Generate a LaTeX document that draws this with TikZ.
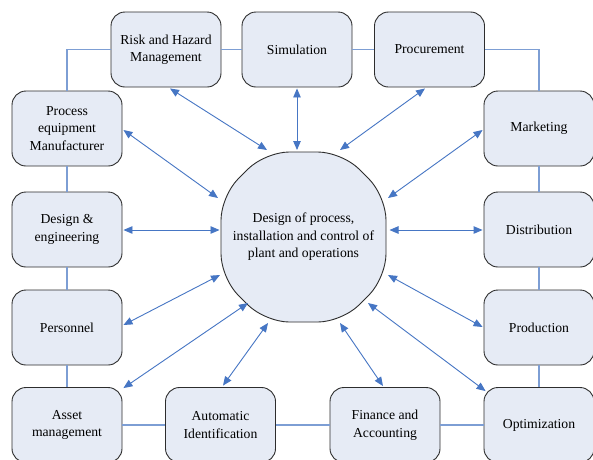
\documentclass[tikz,border=0pt]{standalone}
\usepackage{fontspec}
\setmainfont{Liberation Serif}
\usetikzlibrary{arrows.meta,calc}

\definecolor{boxfill}{RGB}{230,235,245}
\definecolor{boxline}{RGB}{45,45,45}
\definecolor{ringblue}{RGB}{125,158,212}
\definecolor{arrowblue}{RGB}{70,118,196}

\tikzset{
  unitbox/.style={draw=boxline, line width=0.9pt, fill=boxfill,
    rounded corners=14pt, minimum width=110pt, minimum height=75pt,
    inner sep=2pt, align=center,
    font=\fontsize{13.7}{17.5}\selectfont},
  coretext/.style={align=center, inner sep=0pt,
    font=\fontsize{13.7}{17.5}\selectfont},
  coreshape/.style={draw=boxline, line width=0.9pt, fill=boxfill,
    rounded corners=24pt},
  ring/.style={draw=ringblue, line width=1.1pt},
  link/.style={draw=arrowblue, line width=0.9pt,
    {Triangle[length=9pt,width=7.5pt]}-{Triangle[length=9pt,width=7.5pt]}}
}

\begin{document}
\begin{tikzpicture}[x=1pt,y=-1pt]
  \useasboundingbox (0,0) rectangle (593,459);
  \clip (0,0) rectangle (593,459);
  \fill[white] (0,0) rectangle (593,459);

  % surrounding units
  \node[unitbox] (risk)  at (166,49.5)   {Risk and Hazard\\Management};
  \node[unitbox] (sim)   at (297,49.5)   {Simulation};
  \node[unitbox] (proc)  at (429.5,49.5) {Procurement};
  \node[unitbox] (pe)    at (67,128.5)   {Process\\equipment\\Manufacturer};
  \node[unitbox] (mkt)   at (539,128.5)  {Marketing};
  \node[unitbox] (de)    at (67,229.5)   {Design \&\\engineering};
  \node[unitbox] (dist)  at (539,229.5)  {Distribution};
  \node[unitbox] (pers)  at (67,327.5)   {Personnel};
  \node[unitbox] (prod)  at (539,327.5)  {Production};
  \node[unitbox] (asset) at (67,425)     {Asset\\management};
  \node[unitbox] (auto)  at (220.5,425)  {Automatic\\Identification};
  \node[unitbox] (fin)   at (385,425)    {Finance and\\Accounting};
  \node[unitbox] (opt)   at (539,425)    {Optimization};

  % ring of lines joining neighbouring units
  \path[ring] (risk.west) -| (pe.north);
  \path[ring] (risk.east) -- (sim.west);
  \path[ring] (sim.east) -- (proc.west);
  \path[ring] (proc.east) -| (mkt.north);
  \path[ring] (pe.south) -- (de.north);
  \path[ring] (de.south) -- (pers.north);
  \path[ring] (pers.south) -- (asset.north);
  \path[ring] (mkt.south) -- (dist.north);
  \path[ring] (dist.south) -- (prod.north);
  \path[ring] (prod.south) -- (opt.north);
  \path[ring] (asset.east) -- (auto.west);
  \path[ring] (auto.east) -- (fin.west);
  \path[ring] (fin.east) -- (opt.west);

  % central rounded octagon with its text
  \coordinate (mid) at (303.5,237);
  \path[coreshape]
    ($(mid)+(-38.5,-85)$) -- ($(mid)+(38.5,-85)$)
    -- ($(mid)+(82.5,-41)$) -- ($(mid)+(82.5,41)$)
    -- ($(mid)+(38.5,85)$) -- ($(mid)+(-38.5,85)$)
    -- ($(mid)+(-82.5,41)$) -- ($(mid)+(-82.5,-41)$) -- cycle;
  \node[coretext] (core) at (mid)
    {Design of process,\\installation and control of\\plant and operations};

  % two-way links between the units and the core
  \draw[link] ($(risk.south)+(4,1)$)       -- ($(core.center)+(-36.5,-87)$);
  \draw[link] ($(sim.south)+(0,1)$)        -- ($(core.center)+(-6.5,-87)$);
  \draw[link] ($(proc.south)+(-4.5,1)$)    -- ($(core.center)+(36.5,-87)$);
  \draw[link] ($(pe.east)+(1,1.5)$)        -- ($(core.center)+(-85.5,-39)$);
  \draw[link] ($(mkt.west)+(-1,1.5)$)      -- ($(core.center)+(84.5,-39)$);
  \draw[link] ($(de.east)+(1,0.5)$)        -- ($(core.center)+(-84,-7)$);
  \draw[link] ($(dist.west)+(-1,0.5)$)     -- ($(core.center)+(86,-7)$);
  \draw[link] ($(pers.east)+(1,-2.5)$)     -- ($(core.center)+(-83.5,38)$);
  \draw[link] ($(prod.west)+(-1,-0.5)$)    -- ($(core.center)+(84.5,38)$);
  \draw[link] ($(asset.north east)+(1,1)$) -- ($(core.center)+(-55.5,66)$);
  \draw[link] ($(opt.north west)+(2,4)$)   -- ($(core.center)+(64.5,66)$);
  \draw[link] ($(auto.north)+(2.5,-1.5)$)  -- ($(core.center)+(-35.5,86)$);
  \draw[link] ($(fin.north)+(-2,-1)$)      -- ($(core.center)+(36.5,86)$);
\end{tikzpicture}
\end{document}
